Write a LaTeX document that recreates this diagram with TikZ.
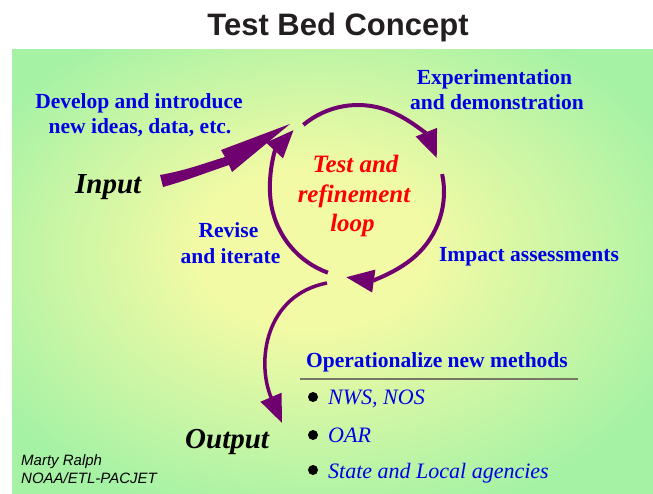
\documentclass[tikz,border=0pt]{standalone}
\usepackage{fontspec}
\setmainfont{Liberation Serif}
\setsansfont{Liberation Sans}
\usetikzlibrary{arrows.meta}
\definecolor{loopviolet}{RGB}{112,0,112}
\definecolor{talkblue}{RGB}{0,0,230}
\definecolor{titleink}{RGB}{35,31,32}
\definecolor{bedgreen}{RGB}{166,242,165}
\definecolor{bedyellow}{RGB}{242,250,165}
\definecolor{rulegray}{RGB}{120,118,100}
\pgfdeclareradialshading{bedglow}{\pgfpoint{-2bp}{3bp}}{color(0bp)=(bedyellow); color(9bp)=(bedyellow); color(30bp)=(bedgreen); color(50bp)=(bedgreen)}
\tikzset{
  loopline/.style={draw=loopviolet, line width=4pt, -{Triangle[length=28pt,width=22pt]}},
  bluelabel/.style={anchor=base, inner sep=0pt, text=talkblue, font=\fontsize{21.5}{25}\selectfont\bfseries},
  redlabel/.style={anchor=base, inner sep=0pt, text=red, font=\fontsize{25}{30}\selectfont\bfseries\itshape},
  bigword/.style={anchor=base west, inner sep=0pt, font=\fontsize{29}{33}\selectfont\bfseries\itshape},
  agency/.style={anchor=base west, inner sep=0pt, text=talkblue, font=\fontsize{22}{26}\selectfont\itshape},
  credit/.style={anchor=base west, inner sep=0pt, font=\fontsize{15}{18}\selectfont\sffamily\itshape},
  dot/.style={circle, fill=black, minimum size=10pt, inner sep=0pt}
}

\begin{document}
\begin{tikzpicture}[x=1pt, y=-1pt]
  \useasboundingbox (0,0) rectangle (653,493);
  \fill[white] (0,0) rectangle (653,493);
  \shade[shading=bedglow] (12,49) rectangle (653,493);
  \node[anchor=base, inner sep=0pt, text=titleink, font=\fontsize{31}{36}\selectfont\sffamily\bfseries] (title) at (338,35) {Test Bed Concept};

  % the loop
  \coordinate (hub) at (358,190);
  \coordinate (hubb) at (358,192);
  \draw[loopline] ([shift={(-130:85)}]hub) arc[start angle=-130, end angle=-22, radius=85];
  \draw[loopline] ([shift={(-12:86)}]hubb) arc[start angle=-12, end angle=98, radius=86];
  \draw[loopline] ([shift={(110:88)}]hub) arc[start angle=110, end angle=223, radius=88];

  \node[redlabel] (testA) at (355.5,172) {Test and};
  \node[redlabel] (testB) at (354,202) {refinement};
  \node[redlabel] (testC) at (352.5,231) {loop};

  \node[bluelabel] (expA) at (494.5,84) {Experimentation};
  \node[bluelabel] (expB) at (497,109) {and demonstration};
  \node[bluelabel] (impact) at (529,261) {Impact assessments};
  \node[bluelabel] (revA) at (228.5,237) {Revise};
  \node[bluelabel] (revB) at (230.5,263) {and iterate};

  % input side
  \node[bluelabel] (devA) at (139,108) {Develop and introduce};
  \node[bluelabel] (devB) at (140,133) {new ideas, data, etc.};
  \node[bigword] (input) at (75,193) {Input};
  \fill[loopviolet] (160,175) .. controls (188,170) and (208,162) .. (225,157)
    -- (221,150) -- (290,124) -- (232,172) -- (229,165)
    .. controls (208,172) and (188,180) .. (163,187) -- cycle;

  % output side
  \coordinate (outA) at (327,283);
  \coordinate (outB) at (282,423);
  \draw[loopline, line width=3.5pt] (outA) .. controls (265,295) and (256,362) .. (outB);
  \node[bigword] (output) at (185,448) {Output};

  \node[bluelabel, anchor=base west] (oper) at (306,367) {Operationalize new methods};
  \draw[rulegray, line width=1.5pt] (300,379) -- (578,379);
  \node[dot] (dotA) at (313,397) {};
  \node[dot] (dotB) at (313,435) {};
  \node[dot] (dotC) at (313,470) {};
  \node[agency] (nws) at (328,404) {NWS, NOS};
  \node[agency] (oar) at (328,442) {OAR};
  \node[agency] (state) at (328,478) {State and Local agencies};

  \node[credit] (marty) at (21,465) {Marty Ralph};
  \node[credit] (noaa) at (21,483) {NOAA/ETL-PACJET};
\end{tikzpicture}
\end{document}
